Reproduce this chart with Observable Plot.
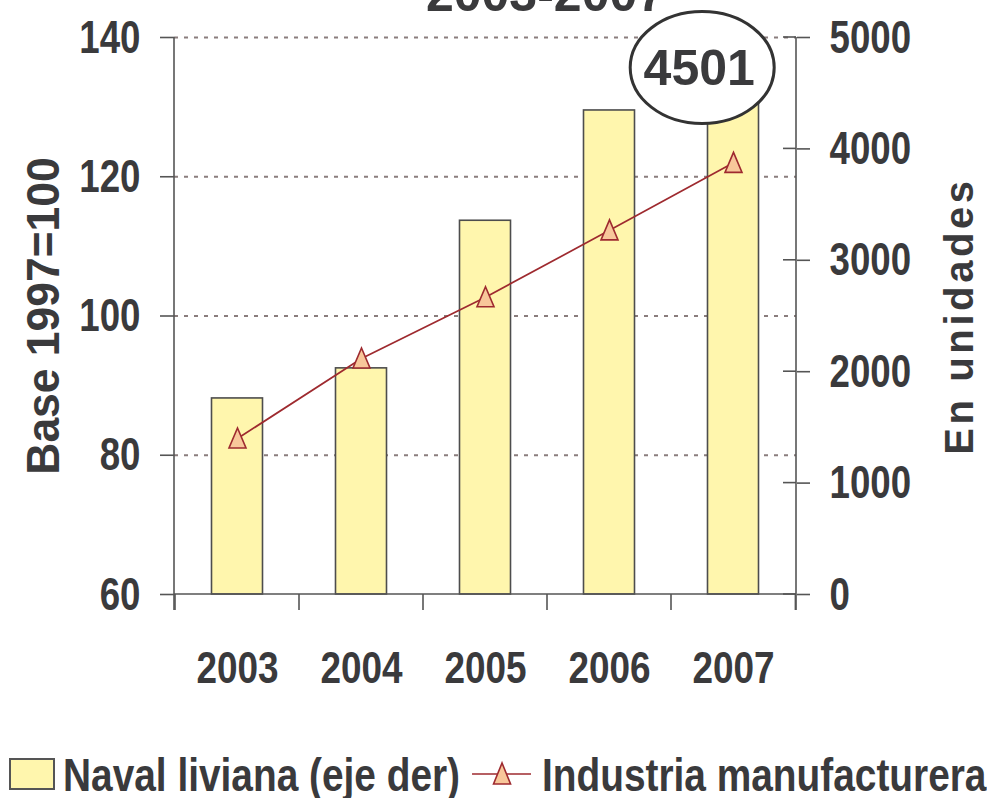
<!DOCTYPE html>
<html>
<head>
<meta charset="utf-8">
<script src="https://cdn.jsdelivr.net/npm/d3@7"></script>
<script src="https://cdn.jsdelivr.net/npm/@observablehq/plot@0.6"></script>
<style>
  html, body { margin: 0; padding: 0; background: #fff; }
  #legend { height: 46px; }
  #legend svg { display: block; }
</style>
</head>
<body>
<div id="chart"></div>
<div id="legend"></div>
<script>
// ---- data ----
const years = ["2003", "2004", "2005", "2006", "2007"];
const navalLiviana = [1760, 2030, 3355, 4345, 4501];              // units (right axis)
const industriaManufacturera = [82.4, 93.9, 102.7, 112.3, 122.0]; // base 1997=100 (left axis)
const leftTicks = [60, 80, 100, 120, 140];
const rightTicks = [0, 1000, 2000, 3000, 4000, 5000];
const gridValues = [80, 100, 120, 140];
const titleText = "2003-2007";
const leftTitle = "Base 1997=100";
const rightTitle = "En unidades";
const highlightYear = "2007";
const highlightValue = 4501;
const seriesNames = ["Naval liviana (eje der)", "Industria manufacturera"];

const FONT = "'Liberation Sans', Arial, Helvetica, sans-serif";
const TEXT = "#3a3a3c";
const AXIS = "#555555";
const RED = "#9e2a2f";
const BARFILL = "#fff6ad";
const MARKFILL = "#f8c79a";

// map right-axis units onto the left-axis scale
const L0 = 60, L1 = 140, R0 = 0, R1 = 5000;
const toLeft = v => L0 + (v - R0) * (L1 - L0) / (R1 - R0);
const toRight = v => R0 + (v - L0) * (R1 - R0) / (L1 - L0);

const data = years.map((y, i) => ({year: y, naval: navalLiviana[i], ind: industriaManufacturera[i]}));

const triangle = {
  draw(ctx) {
    ctx.moveTo(0, -10.5);
    ctx.lineTo(8.5, 9.5);
    ctx.lineTo(-8.5, 9.5);
    ctx.closePath();
  }
};

const W = 987, H = 752;

function axesFrame(index, scales, values, dims) {
  const {x, y} = scales;
  const x0 = dims.marginLeft, x1 = dims.width - dims.marginRight;
  const yTop = dims.marginTop, yBot = dims.height - dims.marginBottom;
  const bw = (x1 - x0) / years.length;
  const g = d3.create("svg:g").attr("stroke", AXIS).attr("stroke-width", 1.6).attr("fill", "none");
  g.append("line").attr("x1", x0).attr("x2", x0).attr("y1", yTop).attr("y2", yBot + 16);
  g.append("line").attr("x1", x1).attr("x2", x1).attr("y1", yTop).attr("y2", yBot + 16);
  g.append("line").attr("x1", x0).attr("x2", x1).attr("y1", yBot).attr("y2", yBot);
  const bounds = years.map(yy => x(yy)).concat([x(years[years.length - 1]) + bw]);
  for (const b of bounds) g.append("line").attr("x1", b).attr("x2", b).attr("y1", yBot).attr("y2", yBot + 16);
  for (const t of rightTicks) {
    const py = y(toLeft(t));
    g.append("line").attr("x1", x1 - 13).attr("x2", x1).attr("y1", py).attr("y2", py);
  }
  return g.node();
}

function highlightEllipse(index, scales, values, dims) {
  const {x, y} = scales;
  const x0 = dims.marginLeft, x1 = dims.width - dims.marginRight;
  const bw = (x1 - x0) / years.length;
  const cx = x(highlightYear) + bw / 2 - 31;
  const cy = y(toLeft(highlightValue)) - 25;
  const g = d3.create("svg:g");
  g.append("ellipse").attr("cx", cx).attr("cy", cy).attr("rx", 72).attr("ry", 56)
    .attr("fill", "white").attr("stroke", "#333").attr("stroke-width", 3);
  g.append("text").attr("x", cx - 3).attr("y", cy).attr("dy", "0.35em")
    .attr("text-anchor", "middle").attr("font-family", FONT).attr("font-weight", "bold")
    .attr("font-size", 50).attr("fill", TEXT).text(String(highlightValue));
  return g.node();
}

const chart = Plot.plot({
  width: W, height: H,
  marginLeft: 174, marginRight: 191, marginTop: 37, marginBottom: H - 594,
  style: {fontFamily: FONT, color: TEXT, background: "white"},
  x: {domain: years, paddingInner: 0, paddingOuter: 0, axis: null, label: null},
  y: {domain: [L0, L1], axis: null, label: null},
  marks: [
    Plot.ruleY(gridValues, {stroke: "#8a7d7d", strokeWidth: 2, strokeDasharray: "4,6"}),
    Plot.barY(data, {x: "year", y1: L0, y2: d => toLeft(d.naval), fill: BARFILL, stroke: "#4d4d4d", strokeWidth: 1.6, insetLeft: 36.5, insetRight: 36.5}),
    Plot.line(data, {x: "year", y: "ind", stroke: RED, strokeWidth: 1.7}),
    Plot.dot(data, {x: "year", y: "ind", symbol: triangle, fill: MARKFILL, stroke: RED, strokeWidth: 1.6}),
    axesFrame,
    Plot.axisY({ticks: leftTicks, anchor: "left", label: null, tickSize: 14, tickPadding: 20, fontSize: 47, fontWeight: "bold", color: TEXT, stroke: AXIS, strokeWidth: 1.6, tickFormat: d => String(d)}),
    Plot.axisY({ticks: rightTicks.map(toLeft), anchor: "right", label: null, tickSize: 13, tickPadding: 20, fontSize: 47, fontWeight: "bold", color: TEXT, stroke: AXIS, strokeWidth: 1.6, tickFormat: d => String(Math.round(toRight(d)))}),
    Plot.axisX({anchor: "bottom", label: null, tickSize: 0, tickPadding: 57, fontSize: 45, fontWeight: "bold", color: TEXT}),
    Plot.text([leftTitle], {frameAnchor: "left", dx: -131, rotate: -90, textAnchor: "middle", lineAnchor: "middle", fontSize: 47, fontWeight: "bold", fill: TEXT}),
    Plot.text([rightTitle], {frameAnchor: "right", dx: 164, rotate: -90, textAnchor: "middle", lineAnchor: "middle", fontSize: 40, fontWeight: "bold", fill: TEXT}),
    Plot.text([titleText], {frameAnchor: "top", dx: 60, dy: -43, lineAnchor: "middle", fontSize: 50, fontWeight: "bold", fill: TEXT}),
    highlightEllipse
  ]
});

document.getElementById("chart").appendChild(chart);

// horizontally condense text (the reference uses a condensed face)
function condense(sel, factor) {
  sel.each(function() {
    const L = this.getComputedTextLength();
    this.setAttribute("textLength", L * factor);
    this.setAttribute("lengthAdjust", "spacingAndGlyphs");
  });
}
const root = d3.select(chart);
const byText = s => root.selectAll("text").filter(function() { return this.textContent === s; });
condense(root.selectAll('g[aria-label="y-axis tick label"] text'), 0.78);
condense(root.selectAll('g[aria-label="x-axis tick label"] text'), 0.82);
condense(byText(leftTitle), 0.945);
byText(rightTitle).attr("letter-spacing", "3.6px");

// legend (below the chart)
const lg = d3.select("#legend").append("svg").attr("width", W).attr("height", 46)
  .attr("font-family", FONT).attr("font-weight", "bold").attr("font-size", 47).attr("fill", TEXT);
lg.append("rect").attr("x", 10).attr("y", 7).attr("width", 44).attr("height", 30)
  .attr("fill", BARFILL).attr("stroke", "#555").attr("stroke-width", 2);
const lt1 = lg.append("text").attr("x", 63).attr("y", 39).text(seriesNames[0]);
condense(lt1, 0.826);
const end1 = 63 + lt1.node().getComputedTextLength();
const sx = end1 + 12;
lg.append("line").attr("x1", sx).attr("x2", sx + 59).attr("y1", 22).attr("y2", 22)
  .attr("stroke", RED).attr("stroke-width", 1.7);
lg.append("path").attr("d", `M${sx + 30},11 L${sx + 38.5},32 L${sx + 21.5},32 Z`)
  .attr("fill", MARKFILL).attr("stroke", RED).attr("stroke-width", 1.6);
const lt2 = lg.append("text").attr("x", sx + 70).attr("y", 39).text(seriesNames[1]);
condense(lt2, 0.826);
</script>
</body>
</html>
